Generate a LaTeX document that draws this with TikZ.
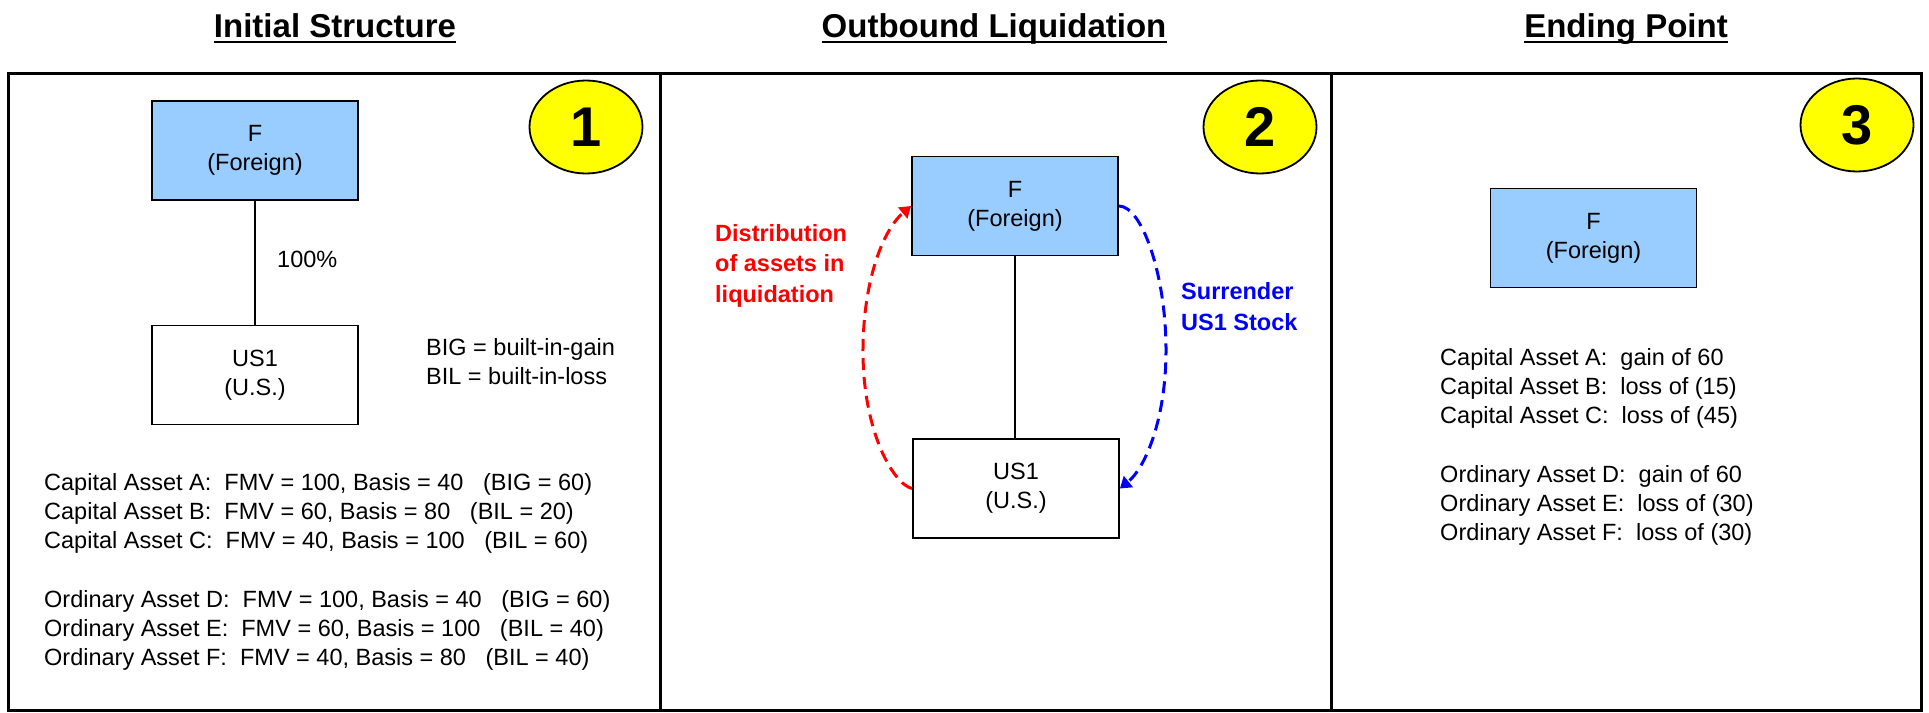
\documentclass[tikz,border=0pt]{standalone}
\usepackage{fontspec}
\setmainfont{Liberation Sans}
\usetikzlibrary{arrows.meta,shapes.geometric}
\definecolor{fblue}{HTML}{99CCFF}
\definecolor{badgey}{HTML}{FFFF00}
\definecolor{myred}{HTML}{FF0000}
\definecolor{myblue}{HTML}{0000FF}
\begin{document}
\begin{tikzpicture}[x=1pt,y=-1pt,
  body/.style={font=\fontsize{23.5}{29}\selectfont, inner sep=0pt},
  txt/.style={body, anchor=base west},
  ent/.style={body, draw=black, line width=1.8pt, minimum width=206pt, minimum height=99pt, align=center},
  fent/.style={ent, fill=fblue},
  badge/.style={ellipse, draw=black, line width=1.8pt, fill=badgey, minimum width=113pt, minimum height=93pt, inner sep=0pt, font=\fontsize{56}{60}\selectfont\bfseries},
  ttl/.style={font=\fontsize{33}{40}\selectfont\bfseries, inner sep=0pt, anchor=base},
  uline/.style={line width=2.6pt},
  frame/.style={line width=3pt},
  link/.style={line width=1.5pt},
  flow/.style={line width=3pt, dash pattern=on 12pt off 7pt, -{Triangle[width=14pt,length=11pt]}},
  lbl/.style={font=\fontsize{23.5}{30.5}\selectfont\bfseries, inner sep=0pt, align=left, anchor=west}
]
\useasboundingbox (0,0) rectangle (1929,712);

% titles
\node[ttl] (t1) at (335,37) {Initial Structure};
\node[ttl] (t2) at (994,37) {Outbound Liquidation};
\node[ttl] (t3) at (1626,37) {Ending Point};
\foreach \t in {t1,t2,t3}{
  \draw[uline] ([yshift=-5pt]\t.base west) -- ([yshift=-5pt]\t.base east);
}

% frame
\draw[frame] (8,73) rectangle (1921,710);
\draw[frame] (660,73) -- (660,710);
\draw[frame] (1331,73) -- (1331,710);

% panel 1
\node[badge] (b1) at (586,127) {1};
\node[fent] (F1) at (255,150.5) {F\\(Foreign)};
\node[ent] (U1) at (255,375) {US1\\(U.S.)};
\draw[link] (F1.south) -- (U1.north);
\node[txt] (pct) at (277,267.5) {100\%};
\node[txt] (big) at (426,355.5) {BIG = built-in-gain};
\node[txt] (bil) at (426,384.5) {BIL = built-in-loss};
\node[txt] (a1) at (44,490.5) {Capital Asset A:\ \ FMV = 100, Basis = 40\ \ \ (BIG = 60)};
\node[txt] (a2) at (44,519.5) {Capital Asset B:\ \ FMV = 60, Basis = 80\ \ \ (BIL = 20)};
\node[txt] (a3) at (44,548.5) {Capital Asset C:\ \ FMV = 40, Basis = 100\ \ \ (BIL = 60)};
\node[txt] (a4) at (44,607.5) {Ordinary Asset D:\ \ FMV = 100, Basis = 40\ \ \ (BIG = 60)};
\node[txt] (a5) at (44,636.5) {Ordinary Asset E:\ \ FMV = 60, Basis = 100\ \ \ (BIL = 40)};
\node[txt] (a6) at (44,665.5) {Ordinary Asset F:\ \ FMV = 40, Basis = 80\ \ \ (BIL = 40)};

% panel 2
\node[badge] (b2) at (1260,127) {2};
\node[fent] (F2) at (1015,206) {F\\(Foreign)};
\node[ent] (U2) at (1016,488.5) {US1\\(U.S.)};
\draw[link] (F2.south) -- (F2.south |- U2.north);
\draw[flow, myred] (U2.west) .. controls (893,484) and (862,430) .. (863,347)
  .. controls (864,275) and (885,228) .. (F2.west);
\draw[flow, myblue] (F2.east) .. controls (1142,206) and (1166,275) .. (1166,350)
  .. controls (1166,420) and (1145,468) .. (U2.east);
\node[lbl, text=myred] (dist) at (715,265.5) {Distribution\\of assets in\\liquidation};
\node[lbl, text=myblue] (surr) at (1181,306.5) {Surrender\\US1 Stock};

% panel 3
\node[badge] (b3) at (1857,125) {3};
\node[fent] (F3) at (1593.5,238) {F\\(Foreign)};
\node[txt] (c1) at (1440,365.5) {Capital Asset A:\ \ gain of 60};
\node[txt] (c2) at (1440,394.5) {Capital Asset B:\ \ loss of (15)};
\node[txt] (c3) at (1440,423.5) {Capital Asset C:\ \ loss of (45)};
\node[txt] (c4) at (1440,482.5) {Ordinary Asset D:\ \ gain of 60};
\node[txt] (c5) at (1440,511.5) {Ordinary Asset E:\ \ loss of (30)};
\node[txt] (c6) at (1440,540.5) {Ordinary Asset F:\ \ loss of (30)};
\end{tikzpicture}
\end{document}
